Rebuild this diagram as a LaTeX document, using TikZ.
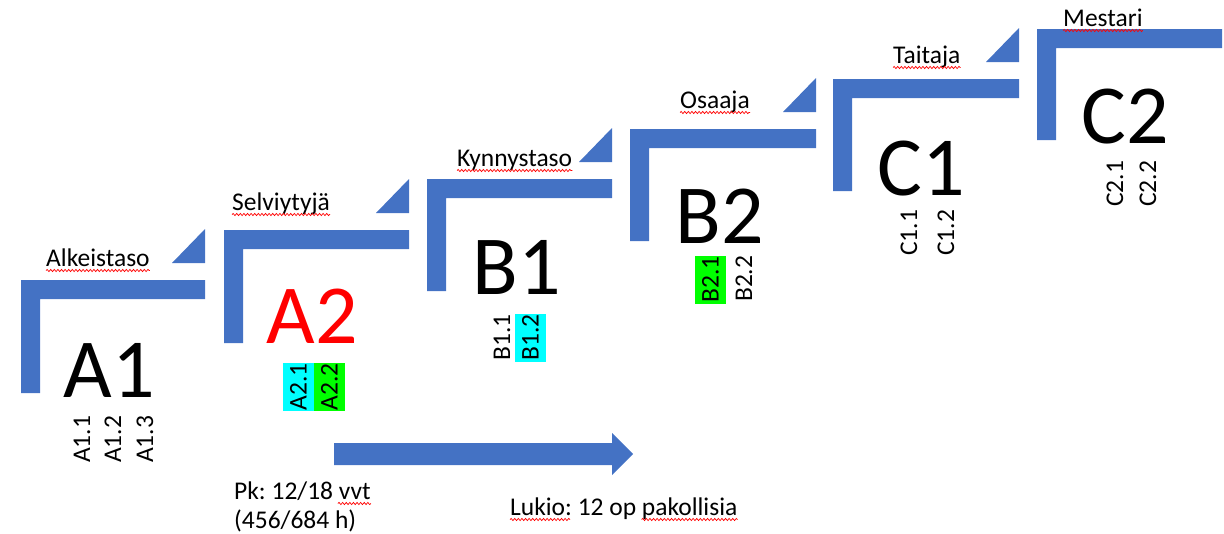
\documentclass[tikz,border=0pt]{standalone}
\usepackage{fontspec}
\setmainfont{Carlito}
\usetikzlibrary{decorations.pathmorphing}
\definecolor{offblue}{HTML}{4472C4}
\definecolor{boxcyan}{HTML}{00FFFF}
\definecolor{boxgreen}{HTML}{00FF00}
\definecolor{lvlred}{HTML}{FF0000}
\frenchspacing
\begin{document}
\begin{tikzpicture}[x=1pt,y=-1pt,
  stair/.style={fill=offblue},
  smallfont/.style={font=\fontsize{25.5pt}{30pt}\selectfont},
  lbl/.style={smallfont, inner sep=0, anchor=base west},
  big/.style={inner sep=0, anchor=base, font=\fontsize{84pt}{90pt}\selectfont},
  sub/.style={smallfont, inner sep=0, anchor=base west, rotate=90},
  subbox/.style={smallfont, inner sep=0, rotate=90, minimum width=48pt, minimum height=31pt},
  squig/.style={draw=lvlred, line width=0.7pt, decorate, decoration={snake, amplitude=1.1pt, segment length=3.6pt}}]
\useasboundingbox (0,0) rectangle (1224,533);
% stairs
\foreach \x/\t/\r/\b in {21/280/205/393, 224/230/409/343, 427/179/612/291, 630/129/816/241, 833/79/1019/191, 1037/29/1222/140} {
  \fill[stair] (\x,\t) -- (\r,\t) -- (\r,\t+19) -- (\x+19,\t+19) -- (\x+19,\b) -- (\x,\b) -- cycle;
}
\foreach \t/\r in {280/205, 230/409, 179/612, 129/816, 79/1019} {
  \fill[stair] (\r-33,\t-17) -- (\r,\t-51) -- (\r,\t-17) -- cycle;
}
% arrow
\fill[stair] (334,443) -- (612,443) -- (612,433) -- (633,454) -- (612,475) -- (612,465) -- (334,465) -- cycle;
% level names
\node[lbl] (alk) at (46,266) {Alkeistaso};
\node[lbl] (sel) at (232,210) {Selviytyjä};
\node[lbl] (kyn) at (457,166) {Kynnystaso};
\node[lbl] (osa) at (680,108) {Osaaja};
\node[lbl] (tai) at (893,63) {Taitaja};
\node[lbl] (mes) at (1063,26) {Mestari};
\foreach \n in {alk,sel,kyn,osa,tai,mes} {
  \draw[squig] ([yshift=-4.5pt]\n.base west) -- ([yshift=-4.5pt]\n.base east);
}
% big level codes
\node[big] (A1) at (109,397) {A1};
\node[big, text=lvlred] (A2) at (312,343) {A2};
\node[big] (B1) at (517,294) {B1};
\node[big] (B2) at (720,243) {B2};
\node[big] (C1) at (921,195) {C1};
\node[big] (C2) at (1125,143) {C2};
% sub levels
\node[sub] (a11) at (90,463) {A1.1};
\node[sub] (a12) at (121,463) {A1.2};
\node[sub] (a13) at (153,463) {A1.3};
\node[subbox, fill=boxcyan] (a21) at (298.5,387) {A2.1};
\node[subbox, fill=boxgreen] (a22) at (329.5,387) {A2.2};
\node[sub] (b11) at (510,360.5) {B1.1};
\node[subbox, fill=boxcyan] (b12) at (530.5,337.5) {B1.2};
\node[subbox, fill=boxgreen] (b21) at (710.5,279.5) {B2.1};
\node[sub] (b22) at (752,302) {B2.2};
\node[sub] (c11) at (917,256) {C1.1};
\node[sub] (c12) at (954,256) {C1.2};
\node[sub] (c21) at (1123,207) {C2.1};
\node[sub] (c22) at (1156,207) {C2.2};
% bottom texts
\node[lbl] (pk1) at (234,499) {Pk: 12/18 vvt};
\node[lbl] (pk2) at (234,528) {(456/684 h)};
\draw[squig] ([xshift=-33pt,yshift=-4.5pt]pk1.base east) -- ([yshift=-4.5pt]pk1.base east);
\node[lbl] (luk) at (510,515) {Lukio: 12 op pakollisia};
\draw[squig] ([yshift=-4.5pt]luk.base west) -- ([xshift=60pt,yshift=-4.5pt]luk.base west);
\draw[squig] ([xshift=-96pt,yshift=-4.5pt]luk.base east) -- ([yshift=-4.5pt]luk.base east);
\end{tikzpicture}
\end{document}
